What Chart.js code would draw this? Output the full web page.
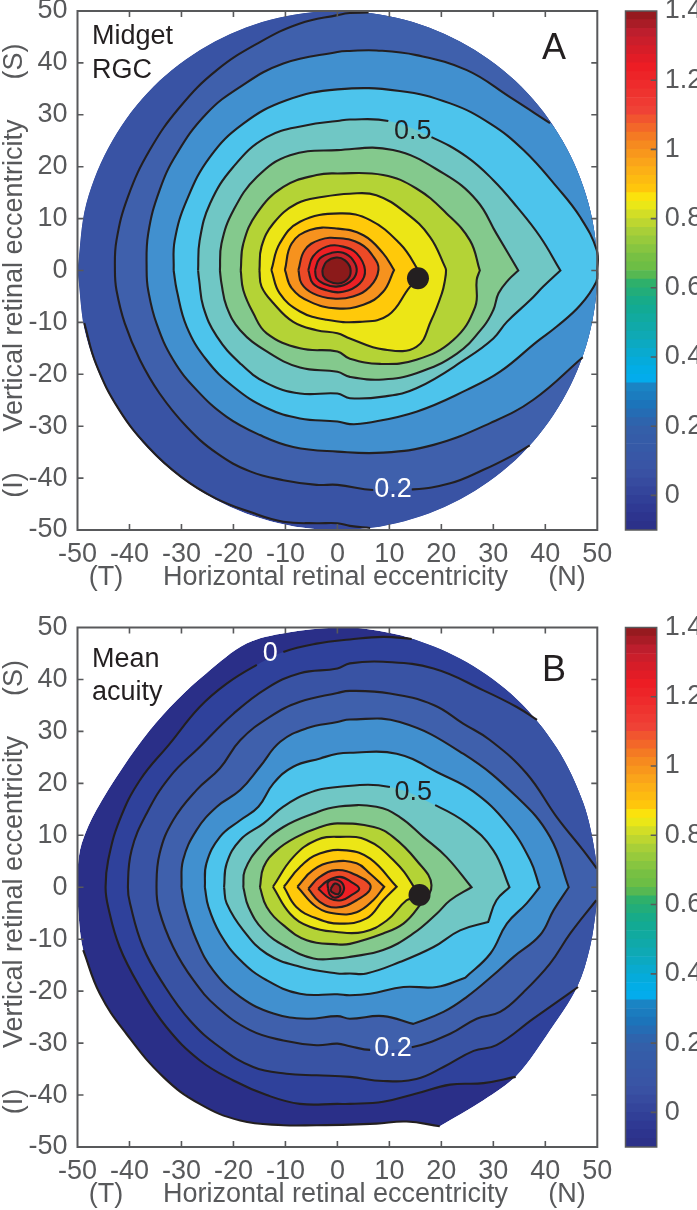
<!DOCTYPE html>
<html><head><meta charset="utf-8">
<style>html,body{margin:0;padding:0;background:#fff;width:697px;height:1210px;overflow:hidden}canvas{position:absolute;display:block}</style>
<script src="https://cdn.jsdelivr.net/npm/chart.js@4/dist/chart.umd.min.js"></script>
</head><body>
<canvas id="a" width="620" height="605" style="left:0;top:0"></canvas>
<canvas id="cba" width="87" height="605" style="left:610px;top:0"></canvas>
<canvas id="b" width="620" height="605" style="left:0;top:605px"></canvas>
<canvas id="cbb" width="87" height="605" style="left:610px;top:605px"></canvas>
<script>
const axisTicks=[-50,-40,-30,-20,-10,0,10,20,30,40,50];
const colorbarTicks=[0,0.2,0.4,0.6,0.8,1,1.2,1.4];
const colorbarEdges=[-0.1,-0.075,-0.05,-0.025,0,0.025,0.05,0.075,0.1,0.125,0.15,0.175,0.2,0.225,0.25,0.275,0.3,0.325,0.35,0.375,0.4,0.425,0.45,0.475,0.5,0.525,0.55,0.575,0.6,0.625,0.65,0.675,0.7,0.725,0.75,0.775,0.8,0.825,0.85,0.875,0.9,0.925,0.95,0.975,1,1.025,1.05,1.075,1.1,1.125,1.15,1.175,1.2,1.225,1.25,1.275,1.3,1.325,1.35,1.375,1.4];
const colorbarStopValues=[-0.1,-0.045,0.07,0.2,0.266,0.315,0.325,0.342,0.4,0.46,0.555,0.614,0.65,0.68,0.76,0.805,0.854,0.883,0.95,1.027,1.114,1.24,1.336,1.4];
const colorbarStopColors=['#2b2f86','#2e3792','#3a53a4','#3360aa','#1b75bb','#1a85c5','#0aa5e2','#00aeef','#07aad6','#0fa9b5','#13aa8d','#2fb06a','#6abd45','#72bf44','#a6ce39','#cbdb2a','#f9ed0e','#ffc80b','#fbaa19','#f58220','#ef4136','#ed1c24','#be1e2d','#8c191c'];

// Panel A: retinal outline and iso-density contours, outermost first
const outerA=[[-50,0],[-48.3,12.9],[-43.3,25],[-35.4,35.4],[-25,43.3],[-12.9,48.3],[0,50],[12.9,48.3],[25,43.3],[35.4,35.4],[43.3,25],[48.3,12.9],[50,0],[48.3,-12.9],[43.3,-25],[35.4,-35.4],[25,-43.3],[12.9,-48.3],[0,-50],[-12.9,-48.3],[-25,-43.3],[-35.4,-35.4],[-43.3,-25],[-48.3,-12.9],[-50,0]];
const levelA01=[[-48.7,-10.1],[-46.4,-18.1],[-42,-26.8],[-36.3,-34.1],[-30,-39.8],[-23.4,-43.9],[-16.6,-46.6],[-10.4,-48.4],[-4,-48.7],[0,-48.7],[2.4,-49.2],[6.3,-49.6]];
const levelA02=[[6,49.7],[2.4,49.6],[0,49.2],[-7.2,47.6],[-14.9,44],[-23.2,38.6],[-30.3,31.5],[-36.1,23.2],[-40.3,14.2],[-42.5,5.8],[-42.8,0],[-42.5,-3.8],[-40.9,-10.2],[-38,-17.2],[-34.2,-23.7],[-29,-30.1],[-23.2,-35.2],[-16.8,-38.7],[-10.4,-40.4],[-4,-41.3],[0,-41.3],[6.9,-42.3],[14.3,-42.2],[21.7,-41],[28.1,-38.4],[33.2,-35.9],[37,-33.7]];
const levelA03=[[40.9,28.4],[33.2,33.4],[24.9,38.6],[15.2,41.5],[7.5,42.4],[2.4,42.3],[0,42.1],[-10.4,39.9],[-18.7,35.4],[-25.2,30.2],[-30.9,22.5],[-34.2,15.5],[-36.4,7.1],[-36.7,0],[-36.4,-3.8],[-34.8,-10.2],[-31.6,-17.2],[-27.1,-23],[-21.3,-28.2],[-14.9,-31.7],[-8.5,-34],[0,-34.9],[8.8,-35.1],[18.5,-33.6],[29.4,-29.4],[37.7,-24.9],[47.2,-16.7]];
const levelA04=[[-31.5,0],[-31.3,5.8],[-29,13.5],[-24.5,21.9],[-18.1,28.3],[-9.8,32.8],[0,34.9],[12,34.6],[21.7,32.2],[29.4,28.3],[35.8,23.2],[42.2,16.1],[46.7,10.3],[49.9,3.9],[50,0],[49.8,-2.2],[46.7,-6.7],[42.2,-10.8],[38.4,-13.7],[31.3,-19.5],[24.9,-23],[15.2,-27.2],[5.6,-29.4],[2.4,-29.6],[0,-29.1],[-7.2,-28.5],[-13.6,-26.5],[-20,-22.4],[-25.2,-17.2],[-29,-10.8],[-30.9,-3.8],[-31.5,0]];
const levelA05=[[-26.8,0],[-26.5,5.8],[-24.5,12.9],[-20,20],[-13.6,25.7],[-5.9,28],[0,28.8],[2.4,29.1],[9.8,28.8],[18.1,25.7],[24.9,21.9],[30,17.4],[34.5,12.3],[39,6.5],[42.9,0],[42.9,0],[39.6,-3.1],[37.1,-5.7],[32.6,-9.9],[30,-13.1],[24.9,-16.9],[15.2,-22.7],[8.8,-24.3],[2.4,-24.6],[0,-23.7],[-7.2,-23.7],[-13.6,-21.7],[-18.7,-17.9],[-23.2,-12.7],[-25.8,-7],[-26.6,-1.8],[-26.8,0]];
const levelA06=[[-22.6,0],[-22.3,5.2],[-20,11.6],[-15.5,18],[-9.1,22.2],[0,23.2],[10.7,23.2],[20.4,18.7],[26.8,13.5],[30.6,7.1],[34.8,0],[34.8,0],[32.9,-1.8],[31,-4.4],[30,-7.6],[28.1,-10.8],[23,-16],[15.2,-19.8],[8.8,-21],[2.4,-20.5],[0,-19.5],[-7.2,-18.7],[-13.6,-15.6],[-18.7,-11.5],[-21.3,-7],[-22.3,-2.5],[-22.6,0]];
const levelA07=[[-18.6,0],[-18.1,5.2],[-15.5,11],[-10.4,16.1],[-4,18.4],[0,18.7],[8.8,18.4],[15.2,15.8],[21,11],[25.5,5.8],[27.4,0],[27.4,0],[26.8,-1.8],[26.5,-7],[22.3,-13.4],[15.2,-17.2],[8.2,-18],[2.4,-17],[0,-15.6],[-7.2,-15],[-13.6,-12.1],[-16.2,-8.2],[-18.1,-3.8],[-18.6,0]];
const levelA08=[[-15,0],[-14.6,4.6],[-12.3,9.1],[-7.8,12.9],[-2.7,14.2],[2.4,14.8],[7.5,14.5],[13.3,11],[17.8,6.5],[20.7,0.7],[20.9,0],[20.7,-1.8],[20.1,-4.4],[18.1,-9.5],[15.2,-14.7],[8.8,-15.2],[2.4,-13.1],[0,-12.1],[-4,-11.5],[-8.5,-9.9],[-12.3,-6.3],[-14.6,-3.1],[-15,0]];
const levelA09=[[-12.7,0.1],[-11.1,5.2],[-7.2,9.4],[0.5,11],[6.3,9.7],[12,5.2],[14.9,1.1],[15.8,-1.5],[14,-3.1],[9.8,-8.6],[4.3,-9.9],[-2.1,-9.5],[-7.2,-7.9],[-11.1,-4.4],[-12.7,0.1]];
const levelA10=[[-10.1,0.1],[-8.8,5.2],[-5.3,7.8],[-0.2,8.1],[5,6.8],[8.8,3.3],[10.9,0.1],[10.9,0.1],[8.8,-4.1],[5,-6.6],[-0.2,-7.3],[-5.3,-6],[-8.8,-3.4],[-10.1,0.1]];
const levelA11=[[-7.5,0.1],[-6.3,3.9],[-3.4,5.9],[0.5,6.2],[4.3,5.2],[6.9,2.7],[7.9,0.1],[6.3,-3.1],[3,-5],[-0.8,-5.4],[-4.7,-4.4],[-6.9,-2.5],[-7.5,0.1]];
const levelA12=[[-5.6,0.1],[-4.7,2.7],[-2.1,4.6],[1.1,4.6],[3.7,3.3],[5.3,0.1],[4.3,-2.5],[1.1,-4.1],[-2.1,-3.8],[-4.7,-2.5],[-5.6,0.1]];
const levelA13=[[-4.3,0.1],[-3.4,2.3],[-1.1,3.4],[1.1,3.4],[3,2],[3.7,-0.2],[2.4,-2.2],[-0.2,-3.1],[-2.7,-2.5],[-4,-1.5],[-4.3,0.1]];
const levelA14=[[-2.9,0.1],[-2.1,1.7],[-0.2,2.5],[1.4,2],[2.5,0.4],[2.1,-1.5],[0.2,-2.5],[-1.8,-2],[-2.7,-1.1],[-2.9,0.1]];

// Panel B: outline and mean-acuity contours, outermost first
const outerB=[[-50,0],[-50,3.3],[-49.2,8.4],[-46.4,14.8],[-41.2,23.2],[-36.1,30.2],[-30.9,36],[-25.2,41.2],[-17.5,46.9],[-9.8,49],[0,50],[5.6,49.7],[14.6,47.8],[24.9,43.3],[34.5,36.2],[42.2,26.8],[47.3,16.2],[49.6,6.3],[50,0],[49.8,-3.8],[48.6,-11.5],[46.1,-19.2],[40.9,-27.5],[34.5,-36.2],[28.1,-41],[19.7,-46],[19.7,-46],[13.3,-45.1],[7.5,-45.5],[2.4,-45.7],[-4,-45.8],[-10.4,-45.8],[-18.7,-44.9],[-26.5,-41.7],[-33.5,-36.5],[-40.6,-28.2],[-45.7,-20.5],[-48.9,-12.1],[-50,-2.5],[-50,0]];
const levelBm1=[[19.7,-46],[13.3,-45.1],[7.5,-45.5],[2.4,-45.7],[-4,-45.8],[-10.4,-45.8],[-18.7,-44.9],[-26.5,-41.7],[-33.5,-36.5],[-40.6,-28.2],[-45.7,-20.5],[-48.9,-12.1]];
const levelB00=[[14.3,47.8],[8.8,48.2],[2.4,47.7],[-4,46.9],[-10.4,45.3],[-15.5,42.8],[-21.3,39.2],[-26.5,34.7],[-32.2,27.7],[-38,20.6],[-41.9,12.9],[-44.1,5.2],[-44.6,0],[-44.1,-3.8],[-41.9,-11.5],[-38,-19.2],[-32.9,-26.9],[-26.5,-33.3],[-20,-37.2],[-13.6,-40],[-7.2,-41.7],[0,-41.7],[2.4,-41.7],[8.8,-41.3],[15.2,-39.7],[21.7,-38],[28.1,-37.7],[34.3,-36.5]];
const levelB01=[[38.4,32.2],[34.5,34.7],[28.1,37.9],[18.5,42.1],[8.8,43.4],[2.4,43.1],[0,42.1],[-7.2,41.2],[-13.6,38.3],[-20,33.4],[-26.5,27],[-32.2,21.3],[-36.7,14.2],[-39.6,7.1],[-40.3,0],[-39.9,-3.1],[-37.4,-11.5],[-33.5,-18.6],[-28.4,-25.6],[-22.6,-30.8],[-16.2,-34.6],[-9.8,-35.9],[-4,-36.2],[2.4,-36.5],[8.8,-37.3],[15.2,-36.9],[20.4,-34.6],[26.2,-31.5],[30.6,-30.4],[37.7,-25.3],[42.2,-22.1],[46.3,-19.2]];
const levelB02=[[49.9,3.6],[47.3,7.1],[42.2,13.5],[36.4,21.9],[29.4,28.3],[24.2,31.5],[18.5,35.1],[10.1,37.3],[2.4,37.8],[0,37.4],[-7.2,35.7],[-13,32.8],[-18.7,28.3],[-22.6,22.9],[-27.1,18.7],[-31.6,12.9],[-34.2,6.5],[-34.8,0],[-34.3,-4.4],[-31.6,-11.5],[-27.7,-17.9],[-23.2,-23],[-16.8,-27.5],[-10.4,-29.5],[-4,-30.4],[0,-30.1],[2.4,-30.6],[6.3,-31.3],[14.3,-30.8],[21.7,-28.2],[26.8,-25.3],[31.3,-24],[35.8,-20.2],[40.9,-14.7],[44.8,-8.9],[49.8,-2.5]];
const levelB03=[[-30,0],[-29.7,5.2],[-27.1,11],[-23.2,15.5],[-18.7,18.7],[-14.9,23.2],[-11,28],[-5.9,30.6],[0,31.8],[2.4,32.3],[12,31.8],[24.2,25.7],[34.5,17.4],[40.9,9.7],[44.5,0],[44.5,0],[41.6,-4.4],[39,-9.2],[33.9,-13.4],[30,-16.9],[24.9,-21.1],[20.4,-24],[14.6,-26.3],[14.6,-26.3],[8.8,-24.8],[2.4,-25.3],[0,-24.8],[-5.9,-25.3],[-12.3,-24.3],[-18.7,-21.1],[-23.9,-16],[-27.1,-10.2],[-29.3,-3.8],[-30,0]];
const levelB04=[[-25.5,0],[-25.2,4.6],[-22.6,9.7],[-18.7,12.9],[-15.2,15.5],[-12.3,20],[-8.5,23.2],[-3.3,24.8],[0,25.7],[2.4,25.9],[11.4,25.7],[19.7,21.9],[26.2,18.4],[32.6,12.3],[37.1,5.2],[38.9,0],[38.9,0],[36.4,-3.1],[32.6,-7],[29.4,-12.8],[24.6,-17.4],[24.6,-17.4],[19.1,-19.2],[12.7,-19.2],[6.3,-20.5],[2.4,-20.8],[0,-20.6],[-7.2,-20.5],[-13.6,-17.9],[-18.7,-14],[-22.6,-8.9],[-24.8,-3.8],[-25.5,0]];
const levelB05=[[-21.8,0],[-21.3,4.6],[-18.7,9.1],[-14.2,12.3],[-10.4,15.5],[-5.9,18],[0,19.3],[10.1,19.3],[18.8,15.8],[24.9,12.3],[30,7.1],[33.1,0],[33.1,0],[30.6,-2.5],[29,-6.7],[29,-6.7],[23.6,-8.3],[18.5,-11.5],[12,-14.4],[5.6,-16.6],[2.4,-16.6],[0,-16.6],[-7.2,-15.3],[-13.6,-12.8],[-18.1,-8.3],[-21.3,-3.1],[-21.8,0]];
const levelB06=[[-18.1,0],[-17.8,3.3],[-14.9,7.8],[-10.4,11.6],[-4.6,14.2],[0,15.5],[7.5,15.5],[12,13.5],[16.5,9.7],[21,5.8],[25.8,0],[25.8,0],[21.7,-2.5],[19.1,-5.1],[14.6,-8.9],[8.8,-12.1],[2.4,-13.4],[0,-13.7],[-4.6,-13.7],[-9.8,-11.5],[-14.2,-8.3],[-17.1,-3.8],[-18.1,0]];
const levelB07=[[-14.9,0],[-14.2,3.9],[-11.7,7.1],[-7.8,9.7],[-3.3,11.6],[0,12.3],[7,11.6],[10.7,9.7],[15.2,5.2],[18.1,0.4],[15.6,-3.8],[12.7,-7],[8.8,-8.9],[2.4,-10.9],[0,-11],[-5.9,-10.2],[-10.4,-7.3],[-13.6,-3.8],[-14.9,0]];
const levelB08=[[-12.4,0.1],[-8.5,5.8],[-4,9.1],[0.5,9.7],[5.6,9.1],[10.8,5.2],[14.5,0.4],[15.2,-1.9],[13.3,-2.5],[9.5,-6.4],[5,-8.6],[-0.2,-8.6],[-5.3,-7.6],[-9.1,-5.1],[-12.4,0.1]];
const levelB09=[[-10.3,0.1],[-7.2,3.9],[-3.4,6.5],[1.8,7.1],[6.3,5.5],[11.4,0.1],[11.4,0.1],[8.8,-2.5],[5.6,-6],[0.5,-7],[-4,-6],[-7.9,-3.8],[-10.3,0.1]];
const levelB10=[[-7.7,0.1],[-4.7,3.3],[-0.8,4.9],[3.7,4.6],[6.3,2.6],[9,0.1],[9,0.1],[6.9,-2.5],[3.7,-4.8],[-0.2,-5.1],[-4,-3.8],[-7.7,0.1]];
const levelB11=[[-5.6,-0.3],[-3.4,2],[-0.2,3.3],[3.7,2.3],[6.4,0.1],[3.7,-2.5],[-0.2,-3.9],[-3.4,-2.8],[-5.6,-0.3]];
const levelB12=[[-3.7,-0.3],[-1.8,1.3],[0.5,2],[2.7,1],[4.2,-0.3],[2.7,-1.5],[0.8,-2.5],[-1.4,-2.2],[-3.7,-0.3]];
const levelB13=[[-1.8,-0.3],[-1.8,1],[-0.5,1.5],[1,0.7],[1.1,-0.9],[-0.3,-2],[-1.4,-1.5],[-1.8,-0.3]];
const levelB14=[[-1.3,-0.3],[-0.5,0.7],[0.5,0.1],[0.2,-1.3],[-1.1,-0.9],[-1.3,-0.3]];

const fillsA=['#3953a4','#3f60ac','#4190cf','#4dc4ec','#70c7c5','#84c98d','#b4d336','#ece616','#ffc90a','#f6921e','#ec4a27','#ed1f24','#c8222a','#8b1a1a'];
const fillsB=[null,'#2f419b','#3953a4','#3f60ac','#4190cf','#4dc4ec','#70c7c5','#84c98d','#b4d336','#ece616','#ffc90a','#f6921e','#ec4a27','#ed1f24','#c8222a','#a41e22'];
const fovea=[[15.5,-1.5]];
const foveaB=[[15.8,-1.5]];

const SANS='"Liberation Sans", Arial, sans-serif';
const GRAY='#58595b', INK='#231f20';
const noPad=s=>{s.paddingTop=0;s.paddingBottom=0;s.paddingLeft=0;s.paddingRight=0;};

function tracePolygon(chart,i,ctx){
  const meta=chart.getDatasetMeta(i);
  meta.dataset.updateControlPoints(chart.chartArea,'x');
  const pts=meta.data;
  ctx.moveTo(pts[0].x,pts[0].y);
  for(let k=1;k<pts.length;k++){
    const a=pts[k-1],b=pts[k];
    ctx.bezierCurveTo(a.cp2x,a.cp2y,b.cp1x,b.cp1y,b.x,b.y);
  }
  ctx.closePath();
}
const contourFill={
  id:'contourFill',
  beforeDatasetDraw(chart,args){
    const ds=chart.data.datasets[args.index];
    if(!ds.bandColor) return;
    const ctx=chart.ctx;
    ctx.save();
    ctx.beginPath(); tracePolygon(chart,0,ctx); ctx.clip();
    ctx.beginPath(); tracePolygon(chart,args.index,ctx);
    ctx.fillStyle=ds.bandColor; ctx.fill();
    ctx.restore();
  }
};
const frameAndText={
  id:'frameAndText',
  afterDatasetsDraw(chart,args,opts){
    const ctx=chart.ctx, ca=chart.chartArea, sx=chart.scales.x, sy=chart.scales.y;
    ctx.save();
    ctx.strokeStyle=GRAY; ctx.lineWidth=1.6;
    ctx.beginPath();
    axisTicks.slice(1,-1).forEach(v=>{
      const px=sx.getPixelForValue(v), py=sy.getPixelForValue(v);
      ctx.moveTo(px,ca.bottom); ctx.lineTo(px,ca.bottom-6);
      ctx.moveTo(px,ca.top); ctx.lineTo(px,ca.top+6);
      ctx.moveTo(ca.left,py); ctx.lineTo(ca.left+6,py);
      ctx.moveTo(ca.right,py); ctx.lineTo(ca.right-6,py);
    });
    ctx.stroke();
    ctx.lineWidth=2; ctx.strokeRect(ca.left,ca.top,ca.right-ca.left,ca.bottom-ca.top);
    ctx.textBaseline='alphabetic'; ctx.textAlign='left';
    opts.pixelTexts.forEach(t=>{ctx.font=t[3]+'px '+SANS; ctx.fillStyle=t[4]; ctx.textAlign=t[5]||'left'; ctx.fillText(t[0],t[1],t[2]);});
    ctx.textBaseline='middle'; ctx.textAlign='center';
    opts.dataTexts.forEach(t=>{ctx.font='27px '+SANS; ctx.fillStyle=t[3]; ctx.fillText(t[0],sx.getPixelForValue(t[1]),sy.getPixelForValue(t[2]));});
    ctx.font='27px '+SANS; ctx.fillStyle=GRAY;
    opts.bottomTexts.forEach(t=>{ctx.fillText(t[0],t[1],opts.bottomY);});
    opts.sideTexts.forEach(t=>{ctx.save(); ctx.translate(15,t[1]); ctx.rotate(-Math.PI/2); ctx.fillText(t[0],0,0); ctx.restore();});
    ctx.restore();
  }
};
function contourDataset(points,closure,color,gap,order){
  const pts=closure?points.concat([points[points.length-1]],closure):points;
  const end=points.length-1;
  return {
    data:pts.map(p=>({x:p[0],y:p[1]})),
    showLine:true,tension:0.42,capBezierPoints:false,pointRadius:0,
    borderColor:INK,borderWidth:2.1,bandColor:color,order,clip:false,
    segment:{borderColor:c=>(c.p0DataIndex>=end||c.p0DataIndex===gap)?'rgba(0,0,0,0)':undefined}
  };
}
function contourChart(id,pad,outer,outerColor,sets,dot,pixelTexts,dataTexts,bottomY,sideOffset,bottomBand){
  const datasets=[{data:outer.map(p=>({x:p[0],y:p[1]})),showLine:true,tension:0.34,capBezierPoints:false,pointRadius:0,borderWidth:0,borderColor:'rgba(0,0,0,0)',bandColor:outerColor,order:100}];
  sets.forEach((s,i)=>datasets.push(contourDataset(s[0],s[1],s[2],s[3],99-i)));
  datasets.push({data:dot.map(p=>({x:p[0],y:p[1]})),pointRadius:11,pointBackgroundColor:INK,pointBorderWidth:0,showLine:false,order:0});
  return new Chart(document.getElementById(id),{
    type:'scatter',data:{datasets},plugins:[contourFill,frameAndText],
    options:{responsive:false,animation:false,events:[],layout:{padding:pad},
      plugins:{legend:{display:false},tooltip:{enabled:false},
        frameAndText:{pixelTexts,dataTexts,bottomY,
          bottomTexts:[['(T)',106],['Horizontal retinal eccentricity',335.5],['(N)',567]],
          sideTexts:[['(S)',61.5+sideOffset],['Vertical retinal eccentricity',275.5+sideOffset],['(I)',485+sideOffset]]}},
      scales:{
        x:{type:'linear',min:-50,max:50,afterFit:s=>{s.height=bottomBand;noPad(s)},afterBuildTicks:s=>{s.ticks=axisTicks.map(v=>({value:v}))},
          grid:{display:false},border:{display:false},
          ticks:{color:GRAY,font:{family:SANS,size:27},padding:0,maxRotation:0,autoSkip:false}},
        y:{type:'linear',min:-50,max:50,afterFit:s=>{s.width=77.5;noPad(s)},afterBuildTicks:s=>{s.ticks=axisTicks.map(v=>({value:v}))},
          grid:{display:false},border:{display:false},
          ticks:{color:GRAY,font:{family:SANS,size:27},padding:2,autoSkip:false}}
      }}
  });
}
function hexToRgb(h){return [1,3,5].map(i=>parseInt(h.substr(i,2),16));}
function colorAt(v){
  let i=0; while(i<colorbarStopValues.length-2&&v>colorbarStopValues[i+1]) i++;
  const t=Math.min(1,Math.max(0,(v-colorbarStopValues[i])/(colorbarStopValues[i+1]-colorbarStopValues[i])));
  const a=hexToRgb(colorbarStopColors[i]),b=hexToRgb(colorbarStopColors[i+1]);
  return 'rgb('+a.map((c,k)=>Math.round(c+(b[k]-c)*t)).join(',')+')';
}
const colorbarFrame={
  id:'colorbarFrame',
  afterDatasetsDraw(chart){
    const ctx=chart.ctx, ca=chart.chartArea, sy=chart.scales.y;
    ctx.save(); ctx.strokeStyle=GRAY; ctx.lineWidth=1.6; ctx.beginPath();
    colorbarTicks.slice(0,-1).forEach(v=>{const y=sy.getPixelForValue(v); ctx.moveTo(ca.right,y); ctx.lineTo(ca.right-6,y);});
    ctx.stroke();
    ctx.lineWidth=1.5; ctx.strokeRect(ca.left,ca.top,ca.right-ca.left,ca.bottom-ca.top);
    ctx.restore();
  }
};
function colorbarChart(id,top,bottom){
  const datasets=colorbarEdges.slice(0,-1).map((lo,i)=>({data:[[lo,colorbarEdges[i+1]]],backgroundColor:colorAt((lo+colorbarEdges[i+1])/2),borderWidth:0,barPercentage:1,categoryPercentage:1}));
  return new Chart(document.getElementById(id),{
    type:'bar',data:{labels:['colorbar'],datasets},plugins:[colorbarFrame],
    options:{responsive:false,animation:false,events:[],layout:{padding:{left:15.5,right:0,top,bottom}},
      plugins:{legend:{display:false},tooltip:{enabled:false}},
      scales:{
        x:{stacked:true,display:false},
        y:{position:'right',min:-0.1,max:1.4,afterFit:s=>{s.width=40.3;noPad(s)},afterBuildTicks:s=>{s.ticks=colorbarTicks.map(v=>({value:v}))},
          grid:{display:false},border:{display:false},
          ticks:{color:GRAY,font:{family:SANS,size:27},padding:0,autoSkip:false,callback:v=>String(v)}}
      }}
  });
}
const FAR=[[70,-70],[70,70],[-70,70],[-70,-10]];
contourChart('a',{right:22.7,top:11,bottom:0},outerA,'#35489e',[
  [levelA01,FAR,fillsA[0]],
  [levelA02,[[70,-50],[70,70]],fillsA[1],21],
  [levelA03,[[70,0]],fillsA[2]],
  [levelA04,null,fillsA[3]],
  [levelA05,null,fillsA[4],8],
  [levelA06,null,fillsA[5]],
  [levelA07,null,fillsA[6]],
  [levelA08,null,fillsA[7]],
  [levelA09,null,fillsA[8]],
  [levelA10,null,fillsA[9]],
  [levelA11,null,fillsA[10]],
  [levelA12,null,fillsA[11]],
  [levelA13,null,fillsA[12]],
  [levelA14,null,fillsA[13]]
],fovea,[['Midget',92,44,27,INK],['RGC',92,78,27,INK],['A',554,59,36,INK,'center']],
[['0.5',14.5,26.7,INK],['0.2',10.7,-42.2,'#ffffff']],578,0,75);
contourChart('b',{right:22.7,top:22.5,bottom:0},outerB,'#2a2f88',[
  [levelBm1,[[19.7,-46]],fillsB[0]],
  [levelB00,[[70,-40],[70,70]],fillsB[1],4],
  [levelB01,[[70,-20],[70,50]],fillsB[2]],
  [levelB02,[[70,0]],fillsB[3],27],
  [levelB03,null,fillsB[4]],
  [levelB04,null,fillsB[5]],
  [levelB05,null,fillsB[6],7],
  [levelB06,null,fillsB[7]],
  [levelB07,null,fillsB[8]],
  [levelB08,null,fillsB[9]],
  [levelB09,null,fillsB[10]],
  [levelB10,null,fillsB[11]],
  [levelB11,null,fillsB[12]],
  [levelB12,null,fillsB[13]],
  [levelB13,null,fillsB[14]],
  [levelB14,null,fillsB[15]]
],foveaB,[['Mean',92,62,27,INK],['acuity',92,95,27,INK],['B',554,76,36,INK,'center']],
[['0.5',14.6,18.2,INK],['0',-12.9,44.9,'#ffffff'],['0.2',10.7,-31.1,'#ffffff']],589.5,616.5-605,63);
colorbarChart('cba',11,75);
colorbarChart('cbb',22.5,63);
</script>
</body></html>
